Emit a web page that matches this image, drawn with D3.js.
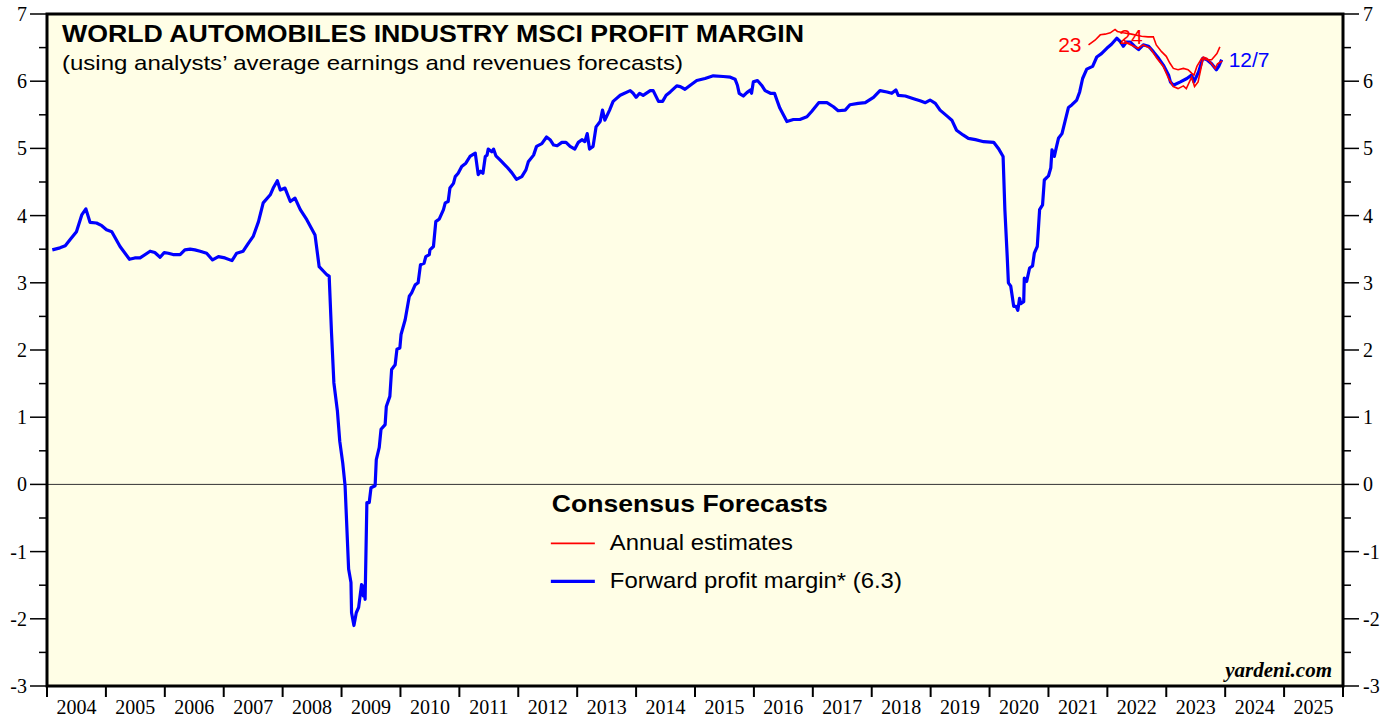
<!DOCTYPE html>
<html>
<head>
<meta charset="utf-8">
<script src="https://cdn.jsdelivr.net/npm/d3@7"></script>
<style>
  body { margin: 0; background: #fff; }
</style>
</head>
<body>
<svg id="drawing_region"></svg>
<script>
// forward profit margin (blue), decimal year / percent
const fwdYears = [2004.09, 2004.22, 2004.31, 2004.39, 2004.50, 2004.59, 2004.66, 2004.73, 2004.84, 2004.93,
    2005.01, 2005.10, 2005.24, 2005.40, 2005.49, 2005.58, 2005.75, 2005.83, 2005.92, 2005.99,
    2006.06, 2006.14, 2006.26, 2006.34, 2006.43, 2006.51, 2006.60, 2006.71, 2006.81, 2006.91,
    2007.02, 2007.14, 2007.22, 2007.33, 2007.42, 2007.50, 2007.59, 2007.67, 2007.79, 2007.84, 2007.91, 2007.96,
    2008.04, 2008.13, 2008.21, 2008.30, 2008.41, 2008.55, 2008.62, 2008.75, 2008.79, 2008.83, 2008.87, 2008.93, 2008.97,
    2009.02, 2009.06, 2009.12, 2009.16, 2009.17, 2009.21, 2009.25, 2009.29, 2009.34, 2009.37, 2009.38, 2009.40,
    2009.43, 2009.47, 2009.50, 2009.57, 2009.59, 2009.64, 2009.67, 2009.74, 2009.76, 2009.82, 2009.85, 2009.91, 2009.94, 2009.99,
    2010.01, 2010.08, 2010.15, 2010.19, 2010.25, 2010.30, 2010.34, 2010.40, 2010.43, 2010.49, 2010.50, 2010.56, 2010.60,
    2010.66, 2010.73, 2010.76, 2010.81, 2010.84, 2010.90, 2010.93, 2010.98,
    2011.04, 2011.11, 2011.18, 2011.27, 2011.32, 2011.36, 2011.40, 2011.44, 2011.47, 2011.49, 2011.55, 2011.58,
    2011.62, 2011.69, 2011.80, 2011.89, 2011.97,
    2012.06, 2012.13, 2012.17, 2012.26, 2012.31, 2012.40, 2012.48, 2012.54, 2012.60, 2012.66, 2012.74, 2012.81, 2012.88, 2012.96,
    2013.02, 2013.08, 2013.13, 2013.17, 2013.21, 2013.27, 2013.32, 2013.39, 2013.43, 2013.47, 2013.55, 2013.61, 2013.73, 2013.90, 2013.95,
    2014.00, 2014.06, 2014.12, 2014.24, 2014.29, 2014.34, 2014.38, 2014.45, 2014.51, 2014.58, 2014.69, 2014.75, 2014.83, 2014.92,
    2015.03, 2015.17, 2015.31, 2015.48, 2015.60, 2015.68, 2015.72, 2015.75, 2015.82, 2015.88, 2015.94, 2015.96, 2015.99,
    2016.06, 2016.13, 2016.19, 2016.28, 2016.35, 2016.39, 2016.44, 2016.56, 2016.67, 2016.78, 2016.90, 2016.98,
    2017.10, 2017.24, 2017.35, 2017.43, 2017.55, 2017.63, 2017.77, 2017.89,
    2018.03, 2018.14, 2018.26, 2018.34, 2018.41, 2018.45, 2018.57, 2018.71, 2018.82, 2018.91, 2018.99,
    2019.08, 2019.16, 2019.28, 2019.36, 2019.44, 2019.55, 2019.64, 2019.76, 2019.90,
    2020.07, 2020.15, 2020.23, 2020.26, 2020.30, 2020.32, 2020.36, 2020.41, 2020.45, 2020.48, 2020.51, 2020.53, 2020.58,
    2020.59, 2020.63, 2020.68, 2020.73, 2020.76, 2020.81, 2020.85, 2020.90, 2020.93,
    2021.00, 2021.04, 2021.06, 2021.10, 2021.13, 2021.17, 2021.23, 2021.28, 2021.34, 2021.40, 2021.48, 2021.53, 2021.58,
    2021.65, 2021.75, 2021.82, 2021.90, 2021.99,
    2022.07, 2022.16, 2022.22, 2022.27, 2022.32, 2022.39, 2022.46, 2022.53, 2022.61, 2022.70, 2022.78, 2022.87, 2022.95,
    2023.04, 2023.07, 2023.12, 2023.24, 2023.35, 2023.43, 2023.47, 2023.55, 2023.62, 2023.69, 2023.77, 2023.85, 2023.89, 2023.94];
const fwdValues = [3.49, 3.52, 3.55, 3.64, 3.76, 4.01, 4.10, 3.90, 3.89, 3.85,
    3.79, 3.76, 3.54, 3.35, 3.37, 3.37, 3.47, 3.45, 3.38, 3.45,
    3.44, 3.42, 3.42, 3.49, 3.50, 3.49, 3.47, 3.44, 3.34, 3.39,
    3.37, 3.33, 3.44, 3.47, 3.59, 3.69, 3.91, 4.19, 4.31, 4.41, 4.52, 4.38,
    4.41, 4.21, 4.26, 4.09, 3.94, 3.71, 3.24, 3.12, 3.10, 2.25, 1.51, 1.09, 0.64,
    0.32, -0.02, -1.26, -1.46, -1.91, -2.10, -1.91, -1.83, -1.49, -1.66, -1.51, -1.71,
    -0.27, -0.27, -0.05, -0.02, 0.37, 0.55, 0.82, 0.89, 1.16, 1.31, 1.71, 1.78, 2.01, 2.03,
    2.23, 2.45, 2.80, 2.85, 2.97, 3.00, 3.27, 3.29, 3.39, 3.42, 3.49, 3.54, 3.91,
    3.95, 4.09, 4.19, 4.21, 4.41, 4.48, 4.58, 4.63,
    4.73, 4.78, 4.88, 4.93, 4.61, 4.66, 4.63, 4.88, 4.90, 4.99, 4.95, 4.99,
    4.89, 4.83, 4.73, 4.64, 4.54,
    4.58, 4.68, 4.80, 4.90, 5.03, 5.07, 5.17, 5.13, 5.05, 5.04, 5.09, 5.09, 5.03, 4.99,
    5.09, 5.13, 5.10, 5.22, 4.99, 5.03, 5.32, 5.40, 5.57, 5.42, 5.57, 5.70, 5.79, 5.86, 5.82,
    5.76, 5.82, 5.79, 5.86, 5.86, 5.77, 5.70, 5.70, 5.79, 5.84, 5.93, 5.92, 5.88, 5.94,
    6.01, 6.04, 6.08, 6.07, 6.06, 6.03, 5.94, 5.82, 5.78, 5.83, 5.87, 5.82, 5.99,
    6.01, 5.94, 5.86, 5.82, 5.82, 5.72, 5.60, 5.40, 5.43, 5.43, 5.47, 5.55,
    5.68, 5.68, 5.62, 5.56, 5.57, 5.65, 5.67, 5.68,
    5.76, 5.86, 5.84, 5.82, 5.87, 5.79, 5.78, 5.74, 5.71, 5.68, 5.72,
    5.67, 5.57, 5.48, 5.42, 5.27, 5.20, 5.15, 5.13, 5.10,
    5.09, 5.00, 4.88, 4.09, 3.39, 3.00, 2.95, 2.65, 2.65, 2.59, 2.77, 2.69, 2.72,
    3.07, 3.02, 3.22, 3.25, 3.44, 3.54, 4.09, 4.16, 4.53,
    4.59, 4.71, 4.98, 4.88, 5.00, 5.15, 5.22, 5.40, 5.61, 5.65, 5.72, 5.84, 6.04,
    6.18, 6.22, 6.36, 6.41, 6.49,
    6.55, 6.64, 6.59, 6.52, 6.58, 6.58, 6.52, 6.47, 6.54, 6.52, 6.44, 6.34, 6.24,
    6.09, 5.99, 5.94, 5.99, 6.04, 6.09, 5.99, 6.14, 6.34, 6.32, 6.26, 6.17, 6.22, 6.32];

// annual estimates (red)
const est23Years = [2021.68, 2021.79, 2021.88, 2021.96, 2022.05, 2022.13, 2022.17, 2022.27, 2022.41, 2022.58, 2022.69,
    2022.78, 2022.83, 2022.92, 2023.00, 2023.06, 2023.12, 2023.20, 2023.29, 2023.37, 2023.43, 2023.47, 2023.52,
    2023.60, 2023.69, 2023.77, 2023.86, 2023.91];
const est23Values = [6.54, 6.61, 6.69, 6.70, 6.72, 6.77, 6.74, 6.72, 6.70, 6.67, 6.66,
    6.66, 6.54, 6.44, 6.37, 6.27, 6.19, 6.17, 6.19, 6.17, 6.12, 6.09, 6.22,
    6.34, 6.32, 6.32, 6.41, 6.51];
const est24Years = [2022.27, 2022.35, 2022.52, 2022.61, 2022.73, 2022.84, 2022.95, 2023.04, 2023.12, 2023.20,
    2023.29, 2023.34, 2023.43, 2023.48, 2023.54, 2023.63, 2023.69, 2023.77, 2023.83, 2023.87, 2023.95];
const est24Values = [6.62, 6.56, 6.49, 6.54, 6.49, 6.34, 6.22, 6.04, 5.92, 5.89,
    5.93, 5.89, 6.06, 5.92, 5.99, 6.36, 6.34, 6.26, 6.19, 6.26, 6.30];

const yearLabels = ['2004', '2005', '2006', '2007', '2008', '2009', '2010', '2011', '2012', '2013', '2014',
    '2015', '2016', '2017', '2018', '2019', '2020', '2021', '2022', '2023', '2024', '2025'];
const yTickValues = [-3, -2, -1, 0, 1, 2, 3, 4, 5, 6, 7];
const yMinorValues = [-2.5, -1.5, -0.5, 0.5, 1.5, 2.5, 3.5, 4.5, 5.5, 6.5];

class MarginChart {
    constructor(config) {
        this.config = {
            parent: config.parent,
            width: config.width || 1397,
            height: config.height || 717,
            margin: config.margin || { top: 14, right: 54, bottom: 31, left: 47 }
        };
        this.init();
    }

    init() {
        let self = this;
        self.svg = d3.select(self.config.parent)
            .attr('width', self.config.width)
            .attr('height', self.config.height);

        self.inner_width = self.config.width - self.config.margin.left - self.config.margin.right;
        self.inner_height = self.config.height - self.config.margin.top - self.config.margin.bottom;

        self.chart = self.svg.append('g')
            .attr('transform', `translate(${self.config.margin.left}, ${self.config.margin.top})`);

        self.xscale = d3.scaleLinear()
            .domain([2004, 2026])
            .range([0, self.inner_width]);

        self.yscale = d3.scaleLinear()
            .domain([-3, 7])
            .range([self.inner_height, 0]);

        self.line = d3.line()
            .x(d => self.xscale(d.t))
            .y(d => self.yscale(d.v));
    }

    update() {
        let self = this;
        self.fwd = fwdYears.map((t, i) => ({ t: t, v: fwdValues[i] }));
        self.est23 = est23Years.map((t, i) => ({ t: t, v: est23Values[i] }));
        self.est24 = est24Years.map((t, i) => ({ t: t, v: est24Values[i] }));
        self.render();
    }

    render() {
        let self = this;
        const W = self.inner_width, H = self.inner_height;
        const serif = '"Liberation Serif", "Times New Roman", serif';
        const sans = '"Liberation Sans", Arial, sans-serif';

        self.chart.append('rect')
            .attr('width', W).attr('height', H)
            .attr('fill', '#fffee6');

        self.svg.append('clipPath').attr('id', 'plotclip')
            .append('rect').attr('width', W).attr('height', H);

        // zero line
        self.chart.append('line')
            .attr('x1', 0).attr('x2', W)
            .attr('y1', self.yscale(0)).attr('y2', self.yscale(0))
            .attr('stroke', '#333').attr('stroke-width', 1);

        // y axes, both sides
        const left = self.chart.append('g').attr('class', 'yaxis-left');
        left.selectAll('.major').data(yTickValues).enter().append('line')
            .attr('x1', -17).attr('x2', 0)
            .attr('y1', d => self.yscale(d)).attr('y2', d => self.yscale(d))
            .attr('stroke', 'black').attr('stroke-width', 1.5);
        left.selectAll('.minor').data(yMinorValues).enter().append('line')
            .attr('x1', -8).attr('x2', 0)
            .attr('y1', d => self.yscale(d)).attr('y2', d => self.yscale(d))
            .attr('stroke', 'black').attr('stroke-width', 1.5);
        left.selectAll('text').data(yTickValues).enter().append('text')
            .attr('x', -20).attr('y', d => self.yscale(d) + 7)
            .attr('text-anchor', 'end')
            .style('font-family', serif).style('font-size', '20px')
            .text(d => d);

        const right = self.chart.append('g').attr('class', 'yaxis-right');
        right.selectAll('.major').data(yTickValues).enter().append('line')
            .attr('x1', W).attr('x2', W + 16)
            .attr('y1', d => self.yscale(d)).attr('y2', d => self.yscale(d))
            .attr('stroke', 'black').attr('stroke-width', 1.5);
        right.selectAll('.minor').data(yMinorValues).enter().append('line')
            .attr('x1', W).attr('x2', W + 8)
            .attr('y1', d => self.yscale(d)).attr('y2', d => self.yscale(d))
            .attr('stroke', 'black').attr('stroke-width', 1.5);
        right.selectAll('text').data(yTickValues).enter().append('text')
            .attr('x', W + 20).attr('y', d => self.yscale(d) + 7)
            .attr('text-anchor', 'start')
            .style('font-family', serif).style('font-size', '20px')
            .text(d => d);

        // x axis: year boundaries with labels in between
        const xaxis = self.chart.append('g').attr('class', 'xaxis');
        xaxis.selectAll('line').data(d3.range(2004, 2027)).enter().append('line')
            .attr('x1', d => self.xscale(d)).attr('x2', d => self.xscale(d))
            .attr('y1', H).attr('y2', H + 11)
            .attr('stroke', 'black').attr('stroke-width', 2);
        xaxis.selectAll('text').data(yearLabels).enter().append('text')
            .attr('x', d => self.xscale(+d + 0.5))
            .attr('y', H + 28)
            .attr('text-anchor', 'middle')
            .style('font-family', serif).style('font-size', '20px')
            .text(d => d);

        // series
        const plot = self.chart.append('g').attr('clip-path', 'url(#plotclip)');
        plot.append('path').datum(self.fwd)
            .attr('d', self.line)
            .attr('fill', 'none').attr('stroke', '#0000ff')
            .attr('stroke-width', 3.2).attr('stroke-linejoin', 'round');
        plot.append('path').datum(self.est23)
            .attr('d', self.line)
            .attr('fill', 'none').attr('stroke', '#ff0000').attr('stroke-width', 1.6);
        plot.append('path').datum(self.est24)
            .attr('d', self.line)
            .attr('fill', 'none').attr('stroke', '#ff0000').attr('stroke-width', 1.6);

        // series labels
        const first23 = self.est23[0], first24 = self.est24[0], lastFwd = self.fwd[self.fwd.length - 1];
        self.chart.append('text')
            .attr('x', self.xscale(first23.t) - 7).attr('y', self.yscale(first23.v) + 7)
            .attr('text-anchor', 'end').attr('fill', '#ff0000')
            .style('font-family', sans).style('font-size', '21px')
            .text('23');
        self.chart.append('text')
            .attr('x', self.xscale(first24.t) - 4).attr('y', self.yscale(first24.v) + 4)
            .attr('text-anchor', 'start').attr('fill', '#ff0000')
            .style('font-family', sans).style('font-size', '21px')
            .text('24');
        self.chart.append('text')
            .attr('x', self.xscale(lastFwd.t) + 7).attr('y', self.yscale(lastFwd.v) + 7)
            .attr('fill', '#0000ff')
            .style('font-family', sans).style('font-size', '21px')
            .text('12/7');

        // frame
        self.chart.append('rect')
            .attr('width', W).attr('height', H)
            .attr('fill', 'none').attr('stroke', 'black').attr('stroke-width', 3);

        // titles (source text is set a bit wide, so fix their lengths)
        self.chart.append('text')
            .attr('x', 15).attr('y', 28)
            .attr('textLength', 742).attr('lengthAdjust', 'spacingAndGlyphs')
            .style('font-family', sans).style('font-size', '24px').style('font-weight', 'bold')
            .text('WORLD AUTOMOBILES INDUSTRY MSCI PROFIT MARGIN');
        self.chart.append('text')
            .attr('x', 15).attr('y', 56)
            .attr('textLength', 621).attr('lengthAdjust', 'spacingAndGlyphs')
            .style('font-family', sans).style('font-size', '21px')
            .text('(using analysts\u2019 average earnings and revenues forecasts)');

        // legend
        const legend = self.chart.append('g')
            .attr('transform', `translate(${self.xscale(2012.57)}, ${self.yscale(0)})`);
        legend.append('text')
            .attr('x', 0).attr('y', 28)
            .attr('textLength', 276).attr('lengthAdjust', 'spacingAndGlyphs')
            .style('font-family', sans).style('font-size', '24px').style('font-weight', 'bold')
            .text('Consensus Forecasts');
        const items = [
            { label: 'Annual estimates', color: '#ff0000', w: 1.6, len: 183 },
            { label: 'Forward profit margin* (6.3)', color: '#0000ff', w: 3.2, len: 292 }
        ];
        items.forEach((it, i) => {
            const y = 59 + i * 38;
            legend.append('line')
                .attr('x1', -1).attr('x2', 43).attr('y1', y).attr('y2', y)
                .attr('stroke', it.color).attr('stroke-width', it.w);
            legend.append('text')
                .attr('x', 58).attr('y', y + 7)
                .attr('textLength', it.len).attr('lengthAdjust', 'spacingAndGlyphs')
                .style('font-family', sans).style('font-size', '22px')
                .text(it.label);
        });

        // source
        self.chart.append('text')
            .attr('x', W - 11).attr('y', H - 9)
            .attr('text-anchor', 'end')
            .style('font-family', serif).style('font-size', '21px')
            .style('font-weight', 'bold').style('font-style', 'italic')
            .text('yardeni.com');
    }
}

const chart = new MarginChart({
    parent: '#drawing_region',
    width: 1397,
    height: 717,
    margin: { top: 14, right: 54, bottom: 31, left: 47 }
});
chart.update();
</script>
</body>
</html>
